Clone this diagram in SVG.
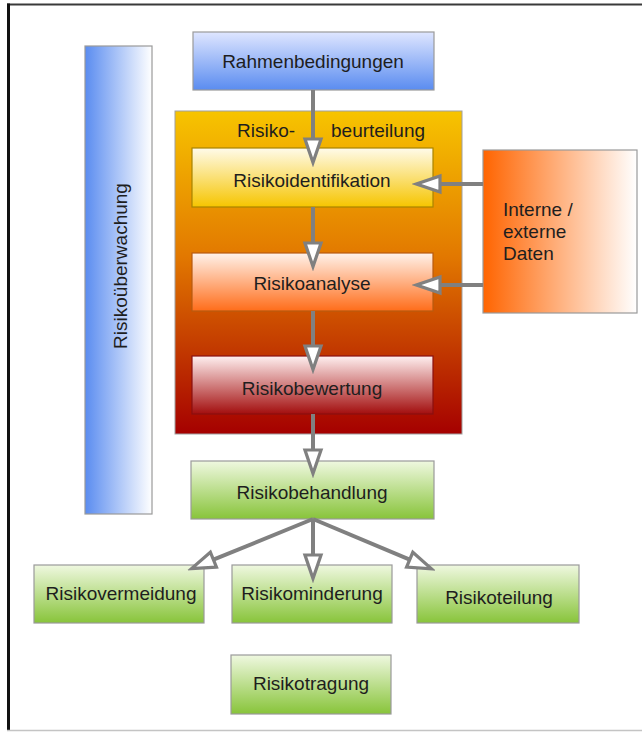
<svg xmlns="http://www.w3.org/2000/svg" width="642" height="732" viewBox="0 0 642 732">
<defs>
<style>
text{font-family:"Liberation Sans",Arial,sans-serif;font-size:19px;fill:#1e1e1e}
.c{text-anchor:middle}
.box{stroke:#9a9a9a;stroke-width:1.2}
.con{stroke:#808080;stroke-width:4;fill:none}
</style>
<linearGradient id="gBlueV" x1="0" y1="0" x2="0" y2="1"><stop offset="0" stop-color="#dfe6ff"/><stop offset="1" stop-color="#5a8cf0"/></linearGradient>
<linearGradient id="gBlueH" x1="0" y1="0" x2="1" y2="0"><stop offset="0" stop-color="#5a8cf0"/><stop offset="1" stop-color="#ffffff"/></linearGradient>
<linearGradient id="gCont" x1="0" y1="0" x2="0" y2="1"><stop offset="0" stop-color="#f7c400"/><stop offset="0.45" stop-color="#e27800"/><stop offset="1" stop-color="#a50000"/></linearGradient>
<linearGradient id="gYel" x1="0" y1="0" x2="0" y2="1"><stop offset="0" stop-color="#fffbea"/><stop offset="1" stop-color="#f6c500"/></linearGradient>
<linearGradient id="gOra" x1="0" y1="0" x2="0" y2="1"><stop offset="0" stop-color="#fff2ea"/><stop offset="1" stop-color="#ff6d1a"/></linearGradient>
<linearGradient id="gRed" x1="0" y1="0" x2="0" y2="1"><stop offset="0" stop-color="#fff0f0"/><stop offset="1" stop-color="#a30e0e"/></linearGradient>
<linearGradient id="gGrn" x1="0" y1="0" x2="0" y2="1"><stop offset="0" stop-color="#eff8e0"/><stop offset="1" stop-color="#88c43a"/></linearGradient>
<linearGradient id="gData" x1="0" y1="0" x2="1" y2="0"><stop offset="0" stop-color="#ff6400"/><stop offset="1" stop-color="#ffffff"/></linearGradient>
<marker id="ah" markerUnits="userSpaceOnUse" markerWidth="30" markerHeight="24" viewBox="-2 -11 28 22" refX="0" refY="0" orient="auto">
<path d="M0,-7.5 L22,0 L0,7.5 Z" fill="#ffffff" stroke="#808080" stroke-width="3" stroke-linejoin="miter"/>
</marker>
</defs>
<rect width="642" height="732" fill="#ffffff"/>
<g id="frame">
<line x1="7" y1="4.5" x2="642" y2="4.5" stroke="#3a3a3a" stroke-width="2"/>
<line x1="8.5" y1="3.5" x2="8.5" y2="731" stroke="#111" stroke-width="3"/>
<line x1="7" y1="730.5" x2="642" y2="730.5" stroke="#c4c4c4" stroke-width="1.5"/>
</g>
<g id="risikoueberwachung">
<rect class="box" x="85" y="46" width="67" height="468" fill="url(#gBlueH)"/>
<text class="c" transform="translate(127,266) rotate(-90)">Risikoüberwachung</text>
</g>
<g id="rahmenbedingungen">
<rect class="box" x="193" y="32" width="241" height="58" fill="url(#gBlueV)"/>
<text class="c" x="313" y="68">Rahmenbedingungen</text>
</g>
<g id="risikobeurteilung">
<rect x="175" y="111" width="287" height="323" fill="url(#gCont)" stroke="#a0a0a0" stroke-width="1"/>
<text x="237" y="137">Risiko-</text>
<text x="331" y="137">beurteilung</text>
</g>
<g id="risikoidentifikation">
<rect x="192" y="148" width="241" height="59" fill="url(#gYel)" stroke="#a88400" stroke-width="1.2"/>
<text class="c" x="312" y="187">Risikoidentifikation</text>
</g>
<g id="risikoanalyse">
<rect x="192" y="253" width="241" height="58" fill="url(#gOra)" stroke="#b85a10" stroke-width="1.2"/>
<text class="c" x="312" y="290">Risikoanalyse</text>
</g>
<g id="risikobewertung">
<rect x="192" y="356" width="241" height="58" fill="url(#gRed)" stroke="#8a1010" stroke-width="1.2"/>
<text class="c" x="312" y="395">Risikobewertung</text>
</g>
<g id="daten">
<rect class="box" x="483" y="150" width="154" height="163" fill="url(#gData)"/>
<text x="503" y="216">Interne /</text>
<text x="503" y="238">externe</text>
<text x="503" y="260">Daten</text>
</g>
<g id="risikobehandlung">
<rect class="box" x="191" y="461" width="243" height="58" fill="url(#gGrn)"/>
<text class="c" x="312" y="499">Risikobehandlung</text>
</g>
<g id="risikovermeidung">
<rect class="box" x="34" y="565" width="170" height="58" fill="url(#gGrn)"/>
<text class="c" x="121" y="600">Risikovermeidung</text>
</g>
<g id="risikominderung">
<rect class="box" x="232" y="565" width="160" height="58" fill="url(#gGrn)"/>
<text class="c" x="312" y="600">Risikominderung</text>
</g>
<g id="risikoteilung">
<rect class="box" x="417" y="565" width="162" height="58" fill="url(#gGrn)"/>
<text class="c" x="499" y="604">Risikoteilung</text>
</g>
<g id="risikotragung">
<rect class="box" x="231" y="655" width="160" height="59" fill="url(#gGrn)"/>
<text class="c" x="311" y="690">Risikotragung</text>
</g>
<g id="connectors">
<line class="con" x1="313" y1="90" x2="313" y2="139" marker-end="url(#ah)"/>
<line class="con" x1="313" y1="207" x2="313" y2="243" marker-end="url(#ah)"/>
<line class="con" x1="313" y1="311" x2="313" y2="346" marker-end="url(#ah)"/>
<line class="con" x1="313" y1="414" x2="313" y2="450" marker-end="url(#ah)"/>
<line class="con" x1="483" y1="184" x2="440" y2="184" marker-end="url(#ah)"/>
<line class="con" x1="483" y1="285" x2="440" y2="285" marker-end="url(#ah)"/>
<line class="con" x1="313" y1="519" x2="213.4" y2="559.7" marker-end="url(#ah)"/>
<line class="con" x1="313" y1="519" x2="313" y2="555" marker-end="url(#ah)"/>
<line class="con" x1="313" y1="519" x2="409.7" y2="559.7" marker-end="url(#ah)"/>
</g>
</svg>
